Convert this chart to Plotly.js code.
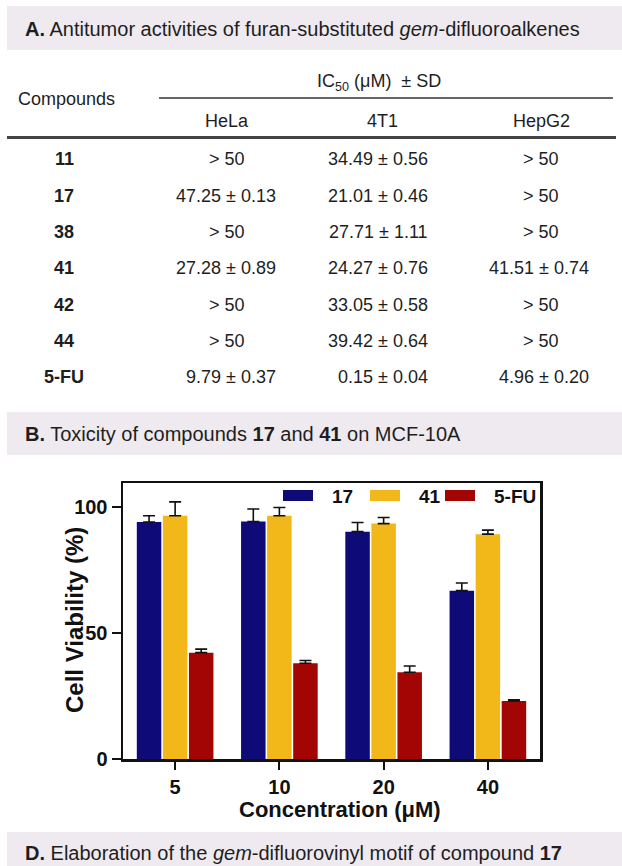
<!DOCTYPE html>
<html>
<head>
<meta charset="utf-8">
<script src="https://cdn.plot.ly/plotly-3.0.1.min.js"></script>
<style>html,body{margin:0;padding:0;background:#fff;}#chart{width:622px;height:866px;}</style>
</head>
<body>
<div id="chart"></div>
<script>
// ---- Table data (section A) ----
const compounds = ['11', '17', '38', '41', '42', '44', '5-FU'];
const helaIC50 = ['> 50', '47.25 ± 0.13', '> 50', '27.28 ± 0.89', '> 50', '> 50', '9.79 ± 0.37'];
const t41IC50 = ['34.49 ± 0.56', '21.01 ± 0.46', '27.71 ± 1.11', '24.27 ± 0.76', '33.05 ± 0.58', '39.42 ± 0.64', '0.15 ± 0.04'];
const hepg2IC50 = ['> 50', '> 50', '> 50', '41.51 ± 0.74', '> 50', '> 50', '4.96 ± 0.20'];
const cellLines = ['HeLa', '4T1', 'HepG2'];

// ---- Bar chart data (section B) ----
const concentrations = ['5', '10', '20', '40'];
const seriesNames = ['17', '41', '5-FU'];
const viability17 = [94, 94.2, 90.2, 66.8];
const sd17 = [2.5, 5, 3.6, 3];
const viability41 = [96.5, 96.5, 93.4, 89.2];
const sd41 = [5.5, 3.3, 2.4, 1.6];
const viability5FU = [42.2, 38, 34.4, 23];
const sd5FU = [1.4, 1.1, 2.5, 0.5];
const seriesColors = ['#0e0a78', '#f2b81a', '#a30404'];
const xTitle = 'Concentration (μM)';
const yTitle = 'Cell Viability (%)';

// ---- geometry helpers (pixel -> paper) ----
const L = 123, R = 540, T = 483, B = 759;
const px = x => (x - L) / (R - L);
const py = y => (B - y) / (B - T);
const FONT = 'Liberation Sans, Arial, Helvetica, sans-serif';
const TXT = '#1e1e1e';

const vals = [viability17, viability41, viability5FU];
const sds = [sd17, sd41, sd5FU];
const traces = seriesNames.map((nm, i) => ({
  type: 'bar', name: nm, x: concentrations, y: vals[i],
  marker: {color: seriesColors[i], line: {width: 0}},
  error_y: {type: 'data', symmetric: false, array: sds[i], arrayminus: sds[i].map(() => 0),
            color: '#111', thickness: 1.6, width: 6},
  showlegend: false, hoverinfo: 'x+y'
}));

const shapes = [];
const annotations = [];

function headerBox(y0, y1) {
  shapes.push({type: 'rect', xref: 'paper', yref: 'paper', x0: px(7), x1: px(622), y0: py(y1), y1: py(y0),
               fillcolor: '#eeeaef', line: {width: 0}, layer: 'below'});
}
function text(t, x, y, opts) {
  annotations.push(Object.assign({text: t, xref: 'paper', yref: 'paper', x: px(x), y: py(y),
    xanchor: 'center', yanchor: 'middle', showarrow: false,
    font: {family: FONT, size: 18, color: TXT}}, opts || {}));
}

// Section headers
headerBox(6, 50);
text('<b>A.</b> Antitumor activities of furan-substituted <i>gem</i>-difluoroalkenes', 23, 29,
     {xanchor: 'left', font: {family: FONT, size: 20, color: TXT}});
headerBox(412, 455);
text('<b>B.</b> Toxicity of compounds <b>17</b> and <b>41</b> on MCF-10A', 23, 434,
     {xanchor: 'left', font: {family: FONT, size: 20, color: TXT}});
headerBox(832, 866);
text('<b>D.</b> Elaboration of the <i>gem</i>-difluorovinyl motif of compound <b>17</b>', 23, 853,
     {xanchor: 'left', font: {family: FONT, size: 20, color: TXT}});

// Table header
text('Compounds', 66, 99);
text('IC<sub>50</sub> (μM)  ± SD', 379, 82);
shapes.push({type: 'line', xref: 'paper', yref: 'paper', x0: px(159), x1: px(613), y0: py(98), y1: py(98),
             line: {color: '#333', width: 1.5}});
const colCenter = [227, 382, 541];
const colRight = [278, 430, 591];
cellLines.forEach((c, i) => text(c, colCenter[i], 121));
shapes.push({type: 'line', xref: 'paper', yref: 'paper', x0: px(7), x1: px(616), y0: py(137.5), y1: py(137.5),
             line: {color: '#444', width: 3}});

const rowY = [159, 196, 232, 268, 305, 341, 377];
const cols = [helaIC50, t41IC50, hepg2IC50];
compounds.forEach((c, r) => {
  text('<b>' + c + '</b>', 64, rowY[r]);
  cols.forEach((col, k) => {
    const v = col[r];
    if (v.indexOf('>') === 0) text(v, colCenter[k], rowY[r]);
    else text(v, colRight[k], rowY[r], {xanchor: 'right'});
  });
});

// Manual legend (inside plot, top)
const swX = [283, 370, 445];
const lbX = [330, 417, 492];
seriesNames.forEach((nm, i) => {
  shapes.push({type: 'rect', xref: 'paper', yref: 'paper', x0: px(swX[i]), x1: px(swX[i] + 30),
               y0: py(501), y1: py(490), fillcolor: seriesColors[i], line: {width: 0}});
  text('<b>' + nm + '</b>', lbX[i], 496, {xanchor: 'left', font: {family: FONT, size: 19, color: '#111'}});
});

// Axis titles placed precisely
text('<b>' + xTitle + '</b>', 340, 809, {font: {family: FONT, size: 22, color: '#111'}});
text('<b>' + yTitle + '</b>', 74, 620, {textangle: -90, font: {family: FONT, size: 24, color: '#111'}});

const layout = {
  width: 622, height: 866,
  margin: {l: L, r: 622 - R, t: T, b: 866 - B, pad: 0},
  paper_bgcolor: '#fff', plot_bgcolor: '#fff',
  barmode: 'group', bargap: 0.25, bargroupgap: 0.06,
  font: {family: FONT, color: '#111'},
  xaxis: {
    type: 'category', range: [-0.5, 3.5], showline: true, linecolor: '#111', linewidth: 2.5, mirror: true,
    ticks: 'outside', ticklen: 8, tickwidth: 2, tickcolor: '#111', showgrid: false, zeroline: false,
    tickfont: {family: FONT, size: 20, color: '#111', weight: 'bold'}
  },
  yaxis: {
    range: [0, 109.5], tickvals: [0, 50, 100], showline: true, linecolor: '#111', linewidth: 2.5, mirror: true,
    ticks: 'outside', ticklen: 9, tickwidth: 2, tickcolor: '#111', showgrid: false, zeroline: false,
    tickfont: {family: FONT, size: 20, color: '#111', weight: 'bold'}
  },
  shapes: shapes,
  annotations: annotations
};

Plotly.newPlot('chart', traces, layout, {displayModeBar: false, staticPlot: true});
</script>
</body>
</html>
